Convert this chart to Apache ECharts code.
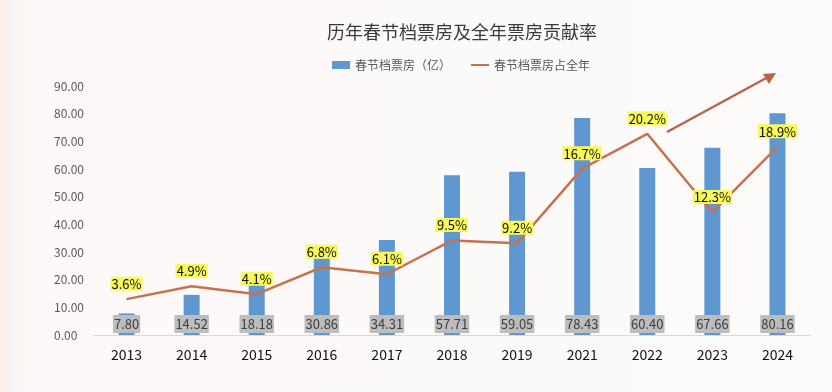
<!DOCTYPE html>
<html>
<head>
<meta charset="utf-8">
<script src="https://cdn.jsdelivr.net/npm/echarts@6/dist/echarts.min.js"></script>
<style>
html,body{margin:0;padding:0;background:#fcf9f8;}
#c{width:832px;height:392px;}
</style>
</head>
<body>
<div id="c"></div>
<script>
const years = ['2013','2014','2015','2016','2017','2018','2019','2021','2022','2023','2024'];
const boxOffice = [7.80, 14.52, 18.18, 30.86, 34.31, 57.71, 59.05, 78.43, 60.40, 67.66, 80.16];
const share = [3.6, 4.9, 4.1, 6.8, 6.1, 9.5, 9.2, 16.7, 20.2, 12.3, 18.9];
const yTicks = [0, 10, 20, 30, 40, 50, 60, 70, 80, 90];

const FONT = '"Noto Sans CJK SC", "Noto Sans", sans-serif';
const chart = echarts.init(document.getElementById('c'), null, {renderer: 'canvas'});
chart.setOption({
  backgroundColor: {
    type: 'linear', x: 0, y: 0, x2: 1, y2: 0,
    colorStops: [{offset: 0, color: '#f9eeea'}, {offset: 0.03, color: '#fcf9f8'}, {offset: 1, color: '#fcfafa'}]
  },
  textStyle: {fontFamily: FONT},
  title: {
    text: '历年春节档票房及全年票房贡献率',
    left: 322, top: 18,
    textStyle: {fontSize: 18, fontWeight: 'normal', color: '#3a3a3a', fontFamily: FONT}
  },
  legend: {
    left: 327, top: 54,
    itemWidth: 18, itemHeight: 8, itemGap: 20,
    textStyle: {fontSize: 12, color: '#595959', fontFamily: FONT},
    data: [
      {name: '春节档票房（亿）', icon: 'rect'},
      {name: '春节档票房占全年', icon: 'path://M0,0 L18,0 L18,2 L0,2 Z'}
    ]
  },
  grid: {left: 94, right: 22, top: 86, bottom: 57, containLabel: false},
  xAxis: {
    type: 'category',
    data: years,
    axisLine: {lineStyle: {color: '#d9d9d9', width: 1}},
    axisTick: {show: false},
    axisLabel: {fontSize: 14, color: '#111', margin: 13, fontFamily: FONT}
  },
  yAxis: [{
    type: 'value', min: yTicks[0], max: yTicks[yTicks.length - 1], interval: 10,
    axisLine: {show: false}, axisTick: {show: false}, splitLine: {show: false},
    axisLabel: {fontSize: 12, color: '#595959', margin: 40, align: 'left',
      formatter: v => v.toFixed(2), fontFamily: FONT}
  }, {
    type: 'value', min: 0, max: 25, show: false, splitLine: {show: false}
  }],
  series: [{
    name: '春节档票房（亿）',
    type: 'bar',
    data: boxOffice,
    barWidth: 16,
    itemStyle: {color: '#5f97d0'},
    z: 2,
    label: {
      show: true, position: 'insideBottom', distance: 2,
      backgroundColor: '#bdbdbd', color: '#404040', fontSize: 13,
      padding: [3, 1, 2, 1], fontFamily: FONT,
      formatter: p => p.value.toFixed(2)
    }
  }, {
    name: '春节档票房占全年',
    type: 'line',
    yAxisIndex: 1,
    data: share,
    symbol: 'circle', symbolSize: 1, showSymbol: true,
    lineStyle: {color: '#c6724e', width: 2.5},
    itemStyle: {color: '#c6724e'},
    z: 3,
    label: {
      show: true, position: 'top', distance: 8,
      backgroundColor: '#f8f85a', color: '#111', fontSize: 13,
      padding: [1, 1, 0, 1], fontFamily: FONT,
      formatter: p => p.value.toFixed(1) + '%'
    }
  }],
  graphic: [{
    type: 'group', z: 10,
    children: [{
      type: 'line',
      shape: {x1: 667, y1: 132, x2: 770, y2: 76},
      style: {stroke: '#b9644a', lineWidth: 2.5}
    }, {
      type: 'polygon',
      shape: {points: [[776, 73], [763, 74], [769, 84]]},
      style: {fill: '#b9644a'}
    }]
  }]
});
</script>
</body>
</html>
